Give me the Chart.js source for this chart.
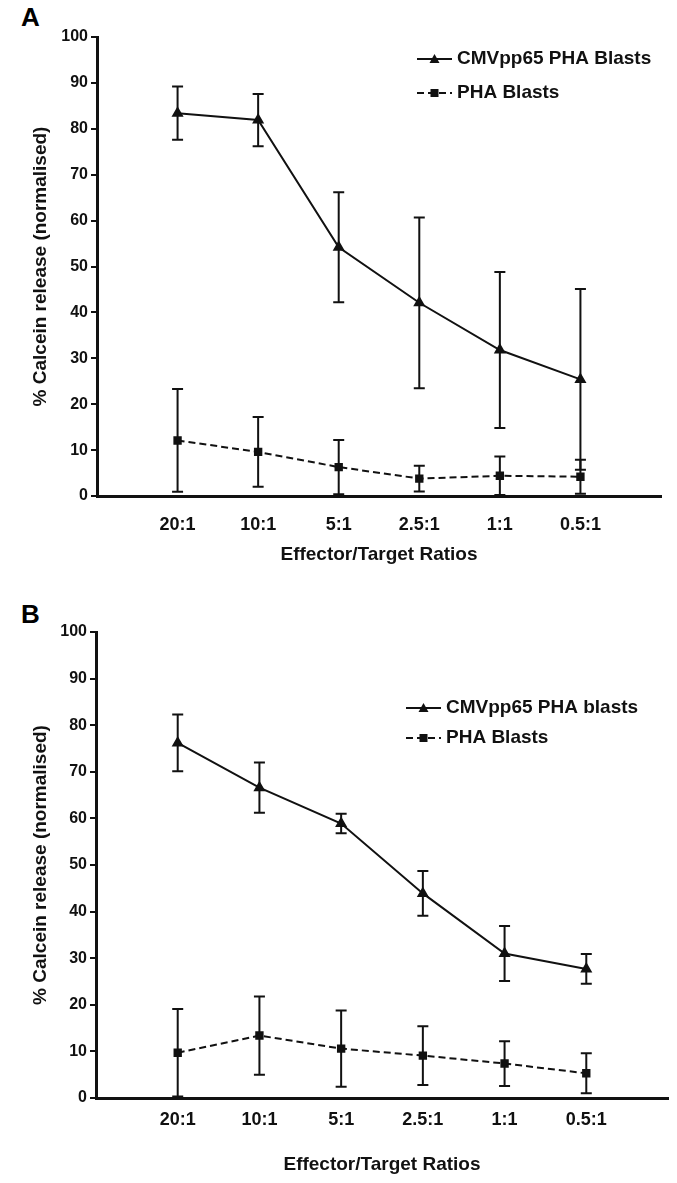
<!DOCTYPE html>
<html>
<head>
<meta charset="utf-8">
<script src="https://cdn.jsdelivr.net/npm/chart.js@4/dist/chart.umd.min.js"></script>
<style>
  body { margin: 0; background: #fff; }
  #wrap { position: relative; width: 677px; height: 1183px; }
  canvas { position: absolute; left: 0; }
  .panel { position: absolute; font: bold 26px "Liberation Sans", Arial, sans-serif; color: #000; }
</style>
</head>
<body>
<div id="wrap">
  <div class="panel" style="left:21px; top:2px;">A</div>
  <canvas id="chartA" width="677" height="580" style="top:0"></canvas>
  <div class="panel" style="left:21px; top:599px;">B</div>
  <canvas id="chartB" width="677" height="603" style="top:580px"></canvas>
</div>
<script>
// effector/target ratios on the x axis
var ratios = ["20:1", "10:1", "5:1", "2.5:1", "1:1", "0.5:1"];
var yTicks = [0, 10, 20, 30, 40, 50, 60, 70, 80, 90, 100];

// panel A
var cmvA = [83.4, 81.9, 54.2, 42.1, 31.8, 25.4];
var cmvAErr = [5.8, 5.7, 12.0, 18.6, 17.0, 19.7];
var phaA = [12.1, 9.6, 6.3, 3.8, 4.4, 4.2];
var phaAErr = [11.2, 7.6, 5.9, 2.8, 4.2, 3.7];

// panel B
var cmvB = [76.2, 66.6, 58.9, 43.9, 31.0, 27.7];
var cmvBErr = [6.1, 5.4, 2.1, 4.8, 5.9, 3.2];
var phaB = [9.7, 13.4, 10.6, 9.1, 7.4, 5.3];
var phaBErr = [9.4, 8.4, 8.2, 6.3, 4.8, 4.3];

var FONT = "'Liberation Sans', Arial, sans-serif";

function points(vals) {
  return vals.map(function (v, i) { return { x: i + 1, y: v }; });
}

var errorBars = {
  id: "errorBars",
  beforeDatasetsDraw: function (chart) {
    var ctx = chart.ctx, ys = chart.scales.y;
    ctx.save();
    ctx.strokeStyle = "#111";
    ctx.lineWidth = 2;
    chart.data.datasets.forEach(function (ds, i) {
      chart.getDatasetMeta(i).data.forEach(function (pt, j) {
        var v = ds.data[j].y, e = ds.errors[j];
        var t = ys.getPixelForValue(v + e), b = ys.getPixelForValue(v - e);
        ctx.beginPath();
        ctx.moveTo(pt.x, t); ctx.lineTo(pt.x, b);
        ctx.moveTo(pt.x - 5.5, t); ctx.lineTo(pt.x + 5.5, t);
        ctx.moveTo(pt.x - 5.5, b); ctx.lineTo(pt.x + 5.5, b);
        ctx.stroke();
      });
    });
    ctx.restore();
  }
};

// legend drawn as rows: line sample with marker, then label
var rowLegend = {
  id: "rowLegend",
  afterDraw: function (chart, args, opts) {
    var ctx = chart.ctx;
    ctx.save();
    chart.data.datasets.forEach(function (ds, i) {
      var y = opts.y + i * opts.gap, x0 = opts.x, x1 = opts.x + 35, xm = (x0 + x1) / 2;
      ctx.strokeStyle = "#111";
      ctx.lineWidth = 2;
      ctx.setLineDash(ds.borderDash || []);
      ctx.beginPath(); ctx.moveTo(x0, y); ctx.lineTo(x1, y); ctx.stroke();
      ctx.setLineDash([]);
      ctx.fillStyle = "#111";
      ctx.beginPath();
      if (ds.pointStyle === "triangle") {
        ctx.moveTo(xm, y - 5); ctx.lineTo(xm + 5, y + 4); ctx.lineTo(xm - 5, y + 4);
      } else {
        ctx.rect(xm - 4, y - 4, 8, 8);
      }
      ctx.fill();
      ctx.font = "bold 19px " + FONT;
      ctx.textBaseline = "middle";
      ctx.fillText(ds.label, x1 + 5, y);
    });
    ctx.restore();
  }
};

function makeChart(id, cmv, cmvErr, pha, phaErr, cmvLabel, lay) {
  return new Chart(document.getElementById(id), {
    type: "line",
    data: {
      datasets: [
        {
          label: cmvLabel,
          data: points(cmv),
          errors: cmvErr,
          borderColor: "#111",
          backgroundColor: "#111",
          borderWidth: 2,
          pointStyle: "triangle",
          pointRadius: 5,
          tension: 0,
        },
        {
          label: "PHA Blasts",
          data: points(pha),
          errors: phaErr,
          borderColor: "#111",
          backgroundColor: "#111",
          borderWidth: 2,
          borderDash: [7, 4],
          pointStyle: "rect",
          pointRadius: 4.5,
          tension: 0,
        },
      ],
    },
    options: {
      responsive: false,
      animation: false,
      layout: { padding: { top: lay.top, right: lay.right, left: 0, bottom: 0 } },
      plugins: {
        legend: { display: false },
        tooltip: { enabled: false },
        rowLegend: lay.legend,
      },
      scales: {
        x: {
          type: "linear",
          min: 0,
          max: 7,
          afterBuildTicks: function (axis) {
            axis.ticks = ratios.map(function (r, i) { return { value: i + 1 }; });
          },
          afterFit: function (s) { s.height = lay.xHeight; },
          grid: { display: false, drawTicks: false },
          border: { color: "#111", width: 3 },
          ticks: {
            color: "#111",
            padding: lay.xTickPad,
            maxRotation: 0,
            autoSkip: false,
            font: { family: FONT, size: 18, weight: "bold" },
            callback: function (v) { return ratios[v - 1] || ""; },
          },
          title: {
            display: true,
            text: "Effector/Target Ratios",
            color: "#111",
            font: { family: FONT, size: 19, weight: "bold" },
            padding: { top: 0, bottom: lay.xTitlePad },
          },
        },
        y: {
          min: 0,
          max: 100,
          afterBuildTicks: function (axis) {
            axis.ticks = yTicks.map(function (v) { return { value: v }; });
          },
          afterFit: function (s) { s.width = lay.left; },
          grid: { drawOnChartArea: false, drawTicks: true, tickLength: 6, color: "#111", lineWidth: 2 },
          border: { color: "#111", width: 3 },
          ticks: {
            color: "#111",
            padding: 3,
            font: { family: FONT, size: 16, weight: "bold" },
          },
          title: {
            display: true,
            text: "% Calcein release (normalised)",
            color: "#111",
            font: { family: FONT, size: 19, weight: "bold" },
            padding: { top: 29, bottom: 0 },
          },
        },
      },
    },
    plugins: [errorBars, rowLegend],
  });
}

makeChart("chartA", cmvA, cmvAErr, phaA, phaAErr, "CMVpp65 PHA Blasts", {
  top: 37, right: 16, left: 97, xHeight: 84, xTickPad: 18, xTitlePad: 14,
  legend: { x: 417, y: 59, gap: 34 },
});
makeChart("chartB", cmvB, cmvBErr, phaB, phaBErr, "CMVpp65 PHA blasts", {
  top: 52, right: 9, left: 96, xHeight: 85, xTickPad: 11, xTitlePad: 7,
  legend: { x: 406, y: 128, gap: 30 },
});
</script>
</body>
</html>
